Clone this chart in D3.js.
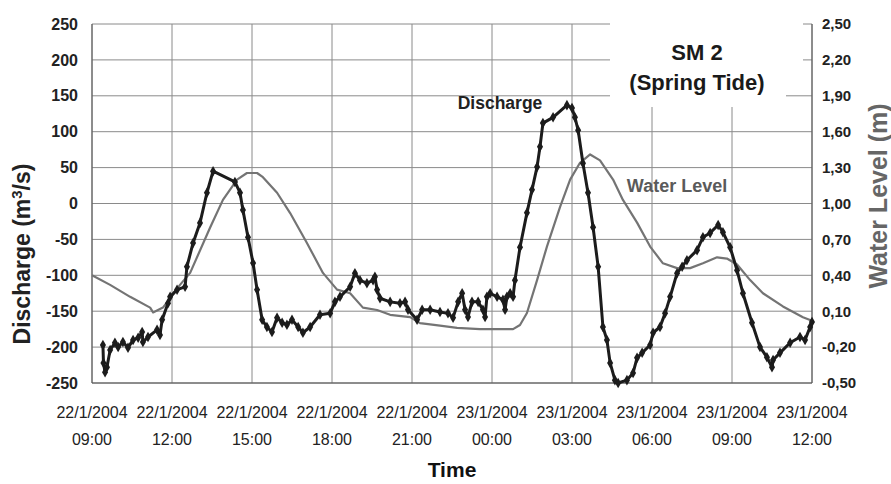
<!DOCTYPE html>
<html>
<head>
<meta charset="utf-8">
<script src="https://cdn.jsdelivr.net/npm/d3@7"></script>
<style>
  html, body { margin: 0; padding: 0; background: #fff; }
  svg { display: block; }
  text { font-family: "Liberation Sans", Arial, sans-serif; }
</style>
</head>
<body>
<svg id="chart" width="891" height="484"></svg>
<script>
// ---- Data (hours counted from 22/1/2004 00:00) ----
const dischargeHours = [9.41, 9.43, 9.49, 9.56, 9.68, 9.86, 9.98, 10.16, 10.35, 10.54, 10.73, 10.88, 10.91, 11.1, 11.44, 11.55, 11.63, 11.85, 11.93, 12.19, 12.49, 12.56, 12.79, 13.05, 13.31, 13.54, 14.36, 14.55, 14.66, 14.85, 15.04, 15.19, 15.38, 15.56, 15.75, 15.94, 16.13, 16.31, 16.5, 16.73, 16.91, 17.18, 17.55, 17.93, 18.11, 18.3, 18.68, 18.86, 19.05, 19.31, 19.54, 19.61, 19.69, 19.8, 20.18, 20.55, 20.74, 20.85, 21.19, 21.38, 21.68, 22.05, 22.35, 22.54, 22.73, 22.88, 22.99, 23.1, 23.25, 23.48, 23.66, 23.74, 23.81, 23.93, 24.19, 24.41, 24.49, 24.56, 24.68, 24.79, 24.86, 25.05, 25.31, 25.5, 25.69, 25.8, 25.91, 26.29, 26.81, 27.0, 27.11, 27.23, 27.41, 27.6, 27.79, 27.98, 28.16, 28.31, 28.43, 28.61, 28.73, 29.06, 29.29, 29.44, 29.63, 29.93, 30.04, 30.3, 30.49, 30.68, 30.94, 31.13, 31.31, 31.69, 31.91, 32.18, 32.48, 32.66, 32.93, 33.19, 33.41, 33.75, 34.05, 34.31, 34.5, 34.54, 34.8, 35.18, 35.55, 35.74, 35.93, 36.0];
const dischargeValues = [-197, -222, -235, -228, -204, -194, -200, -193, -201, -190, -187, -179, -193, -186, -176, -183, -162, -139, -130, -120, -116, -88, -55, -27, 15, 45, 30, 15, -9, -47, -83, -120, -162, -172, -179, -159, -166, -169, -162, -172, -180, -172, -155, -153, -137, -130, -116, -97, -107, -111, -107, -102, -120, -132, -137, -139, -137, -148, -162, -148, -148, -151, -153, -159, -137, -125, -148, -158, -137, -137, -148, -158, -130, -125, -130, -134, -148, -130, -125, -130, -107, -61, -13, 19, 51, 79, 112, 120, 137, 133, 120, 102, 56, 15, -33, -88, -172, -190, -222, -246, -250, -246, -236, -215, -208, -197, -180, -172, -153, -130, -97, -88, -79, -65, -47, -41, -30, -40, -61, -93, -125, -166, -200, -214, -228, -218, -208, -194, -186, -190, -172, -165];

const levelHours = [9.0, 9.68, 10.43, 11.18, 11.29, 11.66, 11.93, 12.3, 12.68, 13.43, 13.91, 14.44, 14.81, 15.19, 15.41, 15.94, 16.43, 17.06, 17.66, 18.19, 18.68, 19.16, 19.69, 20.18, 20.93, 21.3, 22.05, 22.69, 23.55, 24.79, 25.05, 25.31, 25.69, 26.06, 26.55, 26.93, 27.3, 27.68, 28.05, 28.54, 28.91, 29.44, 29.93, 30.41, 30.94, 31.43, 31.91, 32.44, 32.81, 33.19, 33.68, 34.16, 34.91, 35.66, 36.0];
const levelValues = [0.40, 0.32, 0.22, 0.13, 0.09, 0.13, 0.21, 0.32, 0.42, 0.80, 1.03, 1.20, 1.255, 1.255, 1.22, 1.09, 0.92, 0.67, 0.42, 0.28, 0.25, 0.13, 0.11, 0.07, 0.05, 0.00, -0.02, -0.04, -0.05, -0.05, -0.015, 0.085, 0.36, 0.64, 0.97, 1.20, 1.34, 1.41, 1.36, 1.20, 1.03, 0.84, 0.64, 0.50, 0.46, 0.46, 0.50, 0.55, 0.54, 0.49, 0.36, 0.25, 0.14, 0.05, 0.02];

const xTickHours = [9, 12, 15, 18, 21, 24, 27, 30, 33, 36];
const xTickDates = ["22/1/2004", "22/1/2004", "22/1/2004", "22/1/2004", "22/1/2004", "23/1/2004", "23/1/2004", "23/1/2004", "23/1/2004", "23/1/2004"];
const xTickTimes = ["09:00", "12:00", "15:00", "18:00", "21:00", "00:00", "03:00", "06:00", "09:00", "12:00"];
const leftTicks = [-250, -200, -150, -100, -50, 0, 50, 100, 150, 200, 250];
const rightTicks = [-0.5, -0.2, 0.1, 0.4, 0.7, 1.0, 1.3, 1.6, 1.9, 2.2, 2.5];

// ---- Layout ----
const svg = d3.select("#chart");
const L = 92, R = 812, T = 24, B = 383;
const x = d3.scaleLinear().domain([9, 36]).range([L, R]);
const yL = d3.scaleLinear().domain([-250, 250]).range([B, T]);
const yR = d3.scaleLinear().domain([-0.5, 2.5]).range([B, T]);
const loc = d3.formatLocale({decimal: ",", thousands: ".", grouping: [3], currency: ["", ""], minus: "-"});
const fmtR = loc.format(".2f");
const fmtL = loc.format("d");

// grid
const grid = svg.append("g");
grid.selectAll("line.h").data(leftTicks).join("line")
  .attr("x1", L).attr("x2", R).attr("y1", d => yL(d)).attr("y2", d => yL(d))
  .attr("stroke", "#8a8a8a").attr("stroke-width", 1);
grid.selectAll("line.v").data(xTickHours).join("line")
  .attr("x1", d => x(d)).attr("x2", d => x(d)).attr("y1", T).attr("y2", B)
  .attr("stroke", "#8a8a8a").attr("stroke-width", 1);

// white box behind title (covers grid)
svg.append("rect").attr("x", 610).attr("y", 14).attr("width", 193).attr("height", 66).attr("fill", "#fff");
svg.append("rect").attr("x", 610).attr("y", 78).attr("width", 176).attr("height", 29).attr("fill", "#fff");

// axes lines
svg.append("line").attr("x1", L).attr("x2", L).attr("y1", T).attr("y2", B).attr("stroke", "#555");
svg.append("line").attr("x1", R).attr("x2", R).attr("y1", T).attr("y2", B).attr("stroke", "#555");
svg.append("line").attr("x1", L).attr("x2", R).attr("y1", B).attr("y2", B).attr("stroke", "#555");

// left axis labels
const axL = d3.axisLeft(yL).tickValues(leftTicks).tickFormat(fmtL).tickSize(0).tickPadding(14);
const gL = svg.append("g").attr("transform", `translate(${L},0)`).call(axL);
gL.select(".domain").remove();
gL.selectAll("text").attr("font-size", 16).attr("font-weight", "bold").attr("fill", "#222")
  .attr("font-family", "Liberation Sans, Arial, sans-serif");

// right axis labels
const axR = d3.axisRight(yR).tickValues(rightTicks).tickFormat(fmtR).tickSize(0).tickPadding(10);
const gR = svg.append("g").attr("transform", `translate(${R},0)`).call(axR);
gR.select(".domain").remove();
gR.selectAll("text").attr("font-size", 15).attr("font-weight", "bold").attr("fill", "#222")
  .attr("font-family", "Liberation Sans, Arial, sans-serif");

// bottom axis labels (two lines)
const gx = svg.append("g");
gx.selectAll("text.d").data(xTickHours).join("text")
  .attr("x", d => x(d)).attr("y", 418).attr("text-anchor", "middle")
  .attr("font-size", 16).attr("fill", "#222").text((d, i) => xTickDates[i]);
gx.selectAll("text.t").data(xTickHours).join("text")
  .attr("x", d => x(d)).attr("y", 445).attr("text-anchor", "middle")
  .attr("font-size", 16).attr("fill", "#222").text((d, i) => xTickTimes[i]);

// axis titles
svg.append("text").attr("x", 452).attr("y", 477).attr("text-anchor", "middle")
  .attr("font-size", 21).attr("font-weight", "bold").attr("fill", "#111").text("Time");
svg.append("text").attr("transform", "translate(30,254) rotate(-90)").attr("text-anchor", "middle")
  .attr("font-size", 23).attr("font-weight", "bold").attr("fill", "#222")
  .html("Discharge (m<tspan baseline-shift='super' font-size='15'>3</tspan>/s)");
svg.append("text").attr("transform", "translate(887,196) rotate(-90)").attr("text-anchor", "middle")
  .attr("font-size", 25).attr("font-weight", "bold").attr("fill", "#666").text("Water Level (m)");

// water level line
const levelData = levelHours.map((h, i) => [h, levelValues[i]]);
svg.append("path").datum(levelData)
  .attr("d", d3.line().x(d => x(d[0])).y(d => yR(d[1])))
  .attr("fill", "none").attr("stroke", "#747474").attr("stroke-width", 2.2).attr("stroke-linejoin", "round");

// discharge line
const disData = dischargeHours.map((h, i) => [h, dischargeValues[i]]);
svg.append("path").datum(disData)
  .attr("d", d3.line().x(d => x(d[0])).y(d => yL(d[1])))
  .attr("fill", "none").attr("stroke", "#1c1c1c").attr("stroke-width", 3).attr("stroke-linejoin", "round");
svg.append("g").selectAll("path").data(disData).join("path")
  .attr("transform", d => `translate(${x(d[0])},${yL(d[1])})`)
  .attr("d", d3.symbol(d3.symbolDiamond, 32))
  .attr("fill", "#1c1c1c");

// annotations
svg.append("text").attr("x", 697).attr("y", 60).attr("text-anchor", "middle")
  .attr("font-size", 22).attr("font-weight", "bold").attr("fill", "#1a1a1a").text("SM 2");
svg.append("text").attr("x", 697).attr("y", 90).attr("text-anchor", "middle")
  .attr("font-size", 22).attr("font-weight", "bold").attr("fill", "#1a1a1a").text("(Spring Tide)");
svg.append("text").attr("x", 500).attr("y", 109).attr("text-anchor", "middle")
  .attr("font-size", 17.5).attr("font-weight", "bold").attr("fill", "#222").text("Discharge");
svg.append("text").attr("x", 677).attr("y", 192).attr("text-anchor", "middle")
  .attr("font-size", 18).attr("font-weight", "bold").attr("fill", "#5a5a5a").text("Water Level");
</script>
</body>
</html>
